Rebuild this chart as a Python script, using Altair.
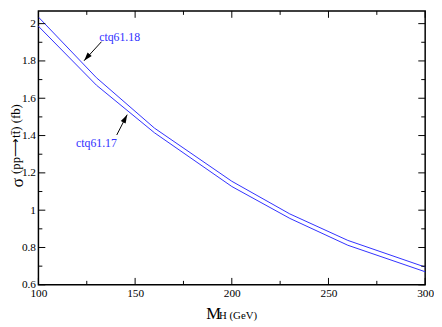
import altair as alt
import pandas as pd

# Data
mass = [100, 130, 160, 200, 230, 260, 300]
ctq6118 = [2.035, 1.71, 1.44, 1.155, 0.98, 0.838, 0.695]
ctq6117 = [1.986, 1.67, 1.415, 1.127, 0.956, 0.812, 0.670]

x_major = [100, 150, 200, 250, 300]
x_minor = [125, 175, 225, 275]
y_major = [0.6, 0.8, 1.0, 1.2, 1.4, 1.6, 1.8, 2.0]
y_minor = [0.7, 0.9, 1.1, 1.3, 1.5, 1.7, 1.9]

labels = ["ctq61.18", "ctq61.17"]
label_x = [142, 130]
label_y = [1.93, 1.362]
arrow_tail_x = [132.6, 140.5]
arrow_tail_y = [1.903, 1.403]
arrow_head_x = [123.6, 145.9]
arrow_head_y = [1.801, 1.512]
arrow_angle = [221, 28]

W, H = 394, 279
FONT = "Liberation Serif"
BLUE = "#2f2fff"

xs = alt.Scale(domain=[100, 300], nice=False, zero=False)
ys = alt.Scale(domain=[0.6, 2.068], nice=False, zero=False)

AX = alt.Axis(values=x_major, ticks=False, domain=False, grid=False,
              labelFont=FONT, labelFontSize=11.5, labelColor="black",
              labelPadding=3, title=None, labelFlush=False, labelOverlap=False)
AY = alt.Axis(values=y_major, ticks=False, domain=False, grid=False, format="~g",
              labelFont=FONT, labelFontSize=11.5, labelColor="black",
              labelPadding=3, title=None, labelFlush=False, labelOverlap=False)

def X(f):
    return alt.X(f, scale=xs, axis=AX)

def Y(f):
    return alt.Y(f, scale=ys, axis=AY)

rows = []
for m, v in zip(mass, ctq6118):
    rows.append({"mass": m, "sigma": v, "pdf": "ctq61.18"})
for m, v in zip(mass, ctq6117):
    rows.append({"mass": m, "sigma": v, "pdf": "ctq61.17"})
df = pd.DataFrame(rows)

lines = alt.Chart(df).mark_line(color=BLUE, strokeWidth=1).encode(
    x=X("mass:Q"), y=Y("sigma:Q"), detail="pdf:N",
)

xmaj = pd.DataFrame({"v": x_major})
xmin = pd.DataFrame({"v": x_minor})
ymaj = pd.DataFrame({"v": y_major})
ymin = pd.DataFrame({"v": y_minor})

def xticks(d, length):
    b = alt.Chart(d).mark_rule(color="black", strokeWidth=1).encode(
        x=X("v:Q"), y=alt.value(H), y2=alt.value(H - length))
    t = alt.Chart(d).mark_rule(color="black", strokeWidth=1).encode(
        x=X("v:Q"), y=alt.value(0), y2=alt.value(length))
    return b + t

def yticks(d, length):
    l = alt.Chart(d).mark_rule(color="black", strokeWidth=1).encode(
        y=Y("v:Q"), x=alt.value(0), x2=alt.value(length))
    r = alt.Chart(d).mark_rule(color="black", strokeWidth=1).encode(
        y=Y("v:Q"), x=alt.value(W), x2=alt.value(W - length))
    return l + r

ann = pd.DataFrame({
    "label": labels, "lx": label_x, "ly": label_y,
    "tx": arrow_tail_x, "ty": arrow_tail_y,
    "hx": arrow_head_x, "hy": arrow_head_y, "ang": arrow_angle,
})

texts = alt.Chart(ann).mark_text(font=FONT, fontSize=12, color=BLUE).encode(
    x=X("lx:Q"), y=Y("ly:Q"), text="label:N")

shafts = alt.Chart(ann).mark_rule(color="black", strokeWidth=1).encode(
    x=X("tx:Q"), y=Y("ty:Q"), x2="hx:Q", y2="hy:Q")

heads = alt.Chart(ann).mark_point(
    shape="M0,0 L-0.32,1 L0.32,1 Z", filled=True, color="black", size=300, opacity=1
).encode(
    x=X("hx:Q"), y=Y("hy:Q"),
    angle=alt.Angle("ang:Q", scale=None))

# Axis titles as text
ytitle1 = alt.Chart(pd.DataFrame({"t": ["σ"]})).mark_text(
    font=FONT, fontSize=18, angle=270, color="black", align="center", baseline="middle"
).encode(x=alt.value(-21), y=alt.value(175), text="t:N")
ytitle2 = alt.Chart(pd.DataFrame({"t": ["(pp⟶tt̄) (fb)"]})).mark_text(
    font=FONT, fontSize=13, angle=270, color="black", align="left", baseline="middle"
).encode(x=alt.value(-23), y=alt.value(166), text="t:N")
xtitle1 = alt.Chart(pd.DataFrame({"t": ["M"]})).mark_text(
    font=FONT, fontSize=17, color="black", align="left", baseline="alphabetic"
).encode(x=alt.value(171), y=alt.value(H + 35), text="t:N")
xtitle2 = alt.Chart(pd.DataFrame({"t": ["H (GeV)"]})).mark_text(
    font=FONT, fontSize=11, color="black", align="left", baseline="alphabetic"
).encode(x=alt.value(184), y=alt.value(H + 35), text="t:N")

chart = alt.layer(
    lines,
    xticks(xmaj, 7), xticks(xmin, 4), yticks(ymaj, 7), yticks(ymin, 4),
    shafts, heads, texts,
    ytitle1, ytitle2, xtitle1, xtitle2,
).properties(
    width=W, height=H,
    autosize=alt.AutoSizeParams(type="none"),
    padding={"left": 31, "top": 0, "right": 9, "bottom": 40},
    background="white",
).configure_view(stroke="black", strokeWidth=1.5)

chart.save("out.html", embed_options={"renderer": "svg", "actions": False})
